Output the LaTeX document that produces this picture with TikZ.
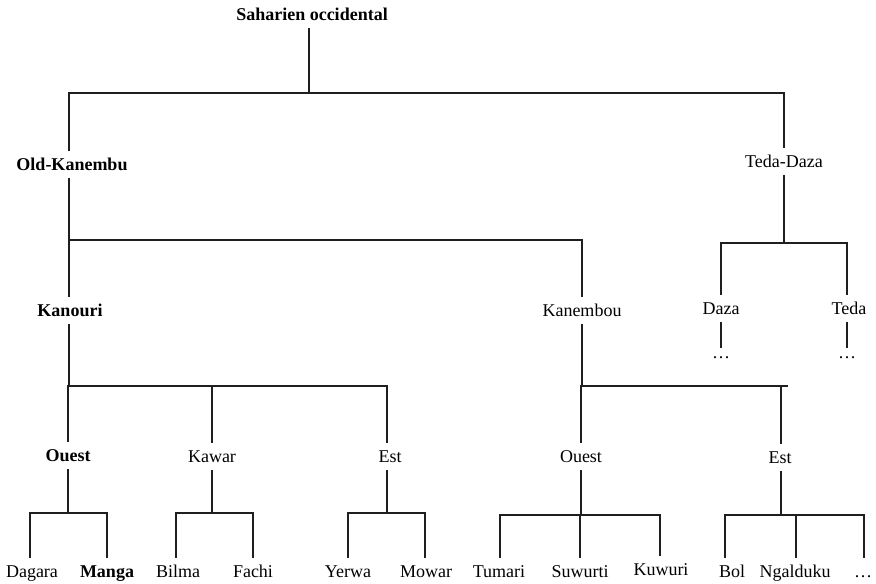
\documentclass[tikz,border=0pt]{standalone}
\usepackage{fontspec}
\setmainfont{Liberation Serif}
\begin{document}
\begin{tikzpicture}[x=1pt,y=-1pt]
\tikzset{
  lbl/.style={anchor=base, inner xsep=1pt, inner ysep=0pt, text height=19pt, text depth=8pt, font=\fontsize{18}{21}\selectfont},
  blbl/.style={lbl, font=\fontsize{18}{21}\selectfont\bfseries},
  dotsnode/.style={lbl, text height=10pt},
  conn/.style={line width=1.45pt, draw=black!88}
}
\useasboundingbox (0,0) rectangle (876,584);
% nodes
\node[blbl] (sah) at (312,20) {Saharien occidental};
\node[blbl] (old) at (72,170) {Old-Kanembu};
\node[lbl] (tdz) at (784,167) {Teda-Daza};
\node[blbl] (kan) at (70,316) {Kanouri};
\node[lbl] (kbu) at (582,316) {Kanembou};
\node[lbl] (daza) at (721,314) {Daza};
\node[lbl] (teda) at (849,314) {Teda};
\node[dotsnode] (d1) at (721,358) {…};
\node[dotsnode] (d2) at (847,358) {…};
\node[blbl] (oL) at (68,461) {Ouest};
\node[lbl] (kaw) at (212,462) {Kawar};
\node[lbl] (eL) at (390,462) {Est};
\node[lbl] (oR) at (581,462) {Ouest};
\node[lbl] (eR) at (780,463) {Est};
\node[lbl] (dag) at (32,577) {Dagara};
\node[blbl] (man) at (107,577) {Manga};
\node[lbl] (bil) at (178,577) {Bilma};
\node[lbl] (fac) at (253,577) {Fachi};
\node[lbl] (yer) at (348,577) {Yerwa};
\node[lbl] (mow) at (426,577) {Mowar};
\node[lbl] (tum) at (499,577) {Tumari};
\node[lbl] (suw) at (580,577) {Suwurti};
\node[lbl] (kuw) at (661,575) {Kuwuri};
\node[lbl] (bol) at (732,577) {Bol};
\node[lbl] (nga) at (795,577) {Ngalduku};
\node[lbl] (dd) at (863,577) {…};
% bar levels
\coordinate (b0) at (0,93);
\coordinate (b1) at (0,240);
\coordinate (b2) at (0,243);
\coordinate (b3) at (0,386);
\coordinate (b4) at (0,386);
\coordinate (b4e) at (788,386);
\coordinate (b5) at (0,513);
\coordinate (b6) at (0,513);
\coordinate (b7) at (0,513);
\coordinate (b8) at (0,515);
\coordinate (b9) at (0,515);
% Saharien occidental
\draw[conn] ([xshift=-3pt]sah.south) -- ([xshift=-3pt]sah.south |- b0);
\draw[conn] ([xshift=-3pt]old.north) -- ([xshift=-3pt]old.north |- b0) -- (tdz.north |- b0) -- (tdz.north);
% Old-Kanembu
\draw[conn] ([xshift=-3pt]old.south) -- ([xshift=-3pt]old.south |- b1);
\draw[conn] ([xshift=-1pt]kan.north) -- ([xshift=-1pt]kan.north |- b1) -- (kbu.north |- b1) -- (kbu.north);
% Teda-Daza
\draw[conn] (tdz.south) -- (tdz.south |- b2);
\draw[conn] (daza.north) -- (daza.north |- b2) -- ([xshift=-2pt]teda.north |- b2) -- ([xshift=-2pt]teda.north);
\draw[conn] (daza.south) -- (d1.north);
\draw[conn] ([xshift=-2pt]teda.south) -- (d2.north);
% Kanouri
\draw[conn] ([xshift=-1pt]kan.south) -- ([xshift=-1pt]kan.south |- b3);
\draw[conn] (oL.north) -- (oL.north |- b3) -- ([xshift=-3pt]eL.north |- b3) -- ([xshift=-3pt]eL.north);
\draw[conn] (kaw.north) -- (kaw.north |- b3);
% Kanembou
\draw[conn] (kbu.south) -- (kbu.south |- b4);
\draw[conn] (oR.north) -- (oR.north |- b4) -- (b4e);
\draw[conn] ([xshift=1pt]eR.north) -- ([xshift=1pt]eR.north |- b4);
% Ouest (Kanouri)
\draw[conn] (oL.south) -- (oL.south |- b5);
\draw[conn] ([xshift=-2pt]dag.north) -- ([xshift=-2pt]dag.north |- b5) -- (man.north |- b5) -- (man.north);
% Kawar
\draw[conn] (kaw.south) -- (kaw.south |- b6);
\draw[conn] ([xshift=-2pt]bil.north) -- ([xshift=-2pt]bil.north |- b6) -- (fac.north |- b6) -- (fac.north);
% Est (Kanouri)
\draw[conn] ([xshift=-3pt]eL.south) -- ([xshift=-3pt]eL.south |- b7);
\draw[conn] (yer.north) -- (yer.north |- b7) -- ([xshift=-1pt]mow.north |- b7) -- ([xshift=-1pt]mow.north);
% Ouest (Kanembou)
\draw[conn] (oR.south) -- (oR.south |- b8);
\draw[conn] ([xshift=1pt]tum.north) -- ([xshift=1pt]tum.north |- b8) -- ([xshift=-1pt]kuw.north |- b8) -- ([xshift=-1pt]kuw.north);
\draw[conn] (suw.north) -- (suw.north |- b8);
% Est (Kanembou)
\draw[conn] ([xshift=1pt]eR.south) -- ([xshift=1pt]eR.south |- b9);
\draw[conn] ([xshift=-7pt]bol.north) -- ([xshift=-7pt]bol.north |- b9) -- ([xshift=1pt]dd.north |- b9) -- ([xshift=1pt]dd.north);
\draw[conn] ([xshift=1pt]nga.north) -- ([xshift=1pt]nga.north |- b9);
\end{tikzpicture}
\end{document}
